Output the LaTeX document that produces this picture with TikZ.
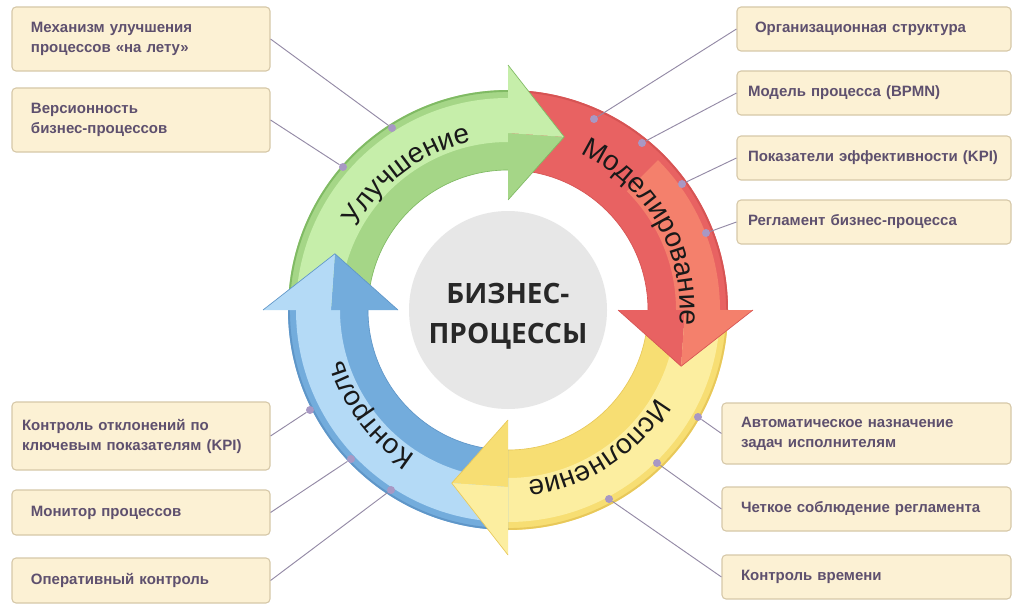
\documentclass[tikz,border=0pt]{standalone}
\usepackage{fontspec}
\setmainfont{Liberation Sans}
\newfontfamily\osans{Open Sans}
\usetikzlibrary{decorations.text}
\definecolor{boxfill}{RGB}{252,241,212}
\definecolor{boxline}{RGB}{214,200,168}
\definecolor{boxtext}{RGB}{94,80,110}
\definecolor{connc}{RGB}{148,138,166}
\definecolor{dotc}{RGB}{168,152,196}
\definecolor{hub}{RGB}{231,231,231}
\definecolor{hubtext}{RGB}{40,40,40}
\definecolor{arctext}{RGB}{25,25,25}
\definecolor{gmid}{RGB}{165,214,135}
\definecolor{glight}{RGB}{198,238,170}
\definecolor{gdark}{RGB}{128,186,100}
\definecolor{rmid}{RGB}{232,98,98}
\definecolor{rlight}{RGB}{244,128,108}
\definecolor{rdark}{RGB}{214,84,84}
\definecolor{ymid}{RGB}{247,222,115}
\definecolor{ylight}{RGB}{252,238,160}
\definecolor{ydark}{RGB}{232,200,90}
\definecolor{bmid}{RGB}{115,172,220}
\definecolor{blight}{RGB}{180,218,246}
\definecolor{bdark}{RGB}{95,150,200}
\newcommand{\arcfont}{\fontsize{21}{21}\selectfont\color{arctext}}
\tikzset{
 box/.style={draw=boxline, fill=boxfill, line width=0.8pt, rounded corners=3pt,
   font=\bfseries\fontsize{11.25}{15}\selectfont, text=boxtext, align=left, inner ysep=0pt},
 lbox/.style={box, minimum width=193.5pt, text width=165pt, inner xsep=14.25pt},
 rbox/.style={box, minimum width=205.5pt, text width=189pt, inner xsep=8.25pt},
 rrbox/.style={box, minimum width=216.75pt, text width=188.25pt, inner xsep=14.25pt},
 conn/.style={draw=connc, line width=0.7pt},
 dot/.style={circle, fill=dotc, inner sep=0pt, minimum size=6pt},
 rim/.style={line width=1.4pt},
 edge/.style={line width=0.5pt},
}
\begin{document}
\begin{tikzpicture}[x=0.75pt,y=0.75pt]
\useasboundingbox (0,0) rectangle (1024,612);
\fill[white] (0,0) rectangle (1024,612);

\begin{scope}[shift={(508,302)}]
% ---------- bodies ----------
% green
\fill[gmid] (180:220) arc[start angle=180,end angle=90,radius=220] -- (90:140) arc[start angle=90,end angle=180,radius=140] -- cycle;
\fill[glight] (180:212) arc[start angle=180,end angle=90,radius=212] -- (90:168) arc[start angle=90,end angle=180,radius=168] -- cycle;
\draw[gdark,rim] (180:219) arc[start angle=180,end angle=90,radius=219];
\draw[gdark,edge] (180:140) arc[start angle=180,end angle=90,radius=140];
% red
\fill[rmid] (90:220) arc[start angle=90,end angle=0,radius=220] -- (0:140) arc[start angle=0,end angle=90,radius=140] -- cycle;
\fill[rlight] (45:212) arc[start angle=45,end angle=0,radius=212] -- (0:168) arc[start angle=0,end angle=45,radius=168] -- cycle;
\draw[rdark,rim] (90:219) arc[start angle=90,end angle=0,radius=219];
\draw[rdark,edge] (90:140) arc[start angle=90,end angle=0,radius=140];
% yellow
\fill[ymid] (0:220) arc[start angle=0,end angle=-90,radius=220] -- (-90:140) arc[start angle=-90,end angle=0,radius=140] -- cycle;
\fill[ylight] (0:212) arc[start angle=0,end angle=-90,radius=212] -- (-90:168) arc[start angle=-90,end angle=0,radius=168] -- cycle;
\draw[ydark,rim] (0:219) arc[start angle=0,end angle=-90,radius=219];
\draw[ydark,edge] (0:140) arc[start angle=0,end angle=-90,radius=140];
% blue
\fill[bmid] (-90:220) arc[start angle=-90,end angle=-180,radius=220] -- (-180:140) arc[start angle=-180,end angle=-90,radius=140] -- cycle;
\fill[blight] (-90:212) arc[start angle=-90,end angle=-180,radius=212] -- (-180:168) arc[start angle=-180,end angle=-90,radius=168] -- cycle;
\draw[bdark,rim] (-90:219) arc[start angle=-90,end angle=-180,radius=219];
\draw[bdark,edge] (-90:140) arc[start angle=-90,end angle=-180,radius=140];

% ---------- heads ----------
% green
\fill[gmid] (90:177) -- (72:182) -- (90:110) -- cycle;
\fill[glight] (90:245) -- (72:182) -- (90:177) -- cycle;
\draw[gdark,edge] (90:245) -- (72:182) -- (90:110);
% red
\fill[rmid] (0:177) -- (-18:182) -- (0:110) -- cycle;
\fill[rlight] (0:245) -- (-18:182) -- (0:177) -- cycle;
\draw[rdark,edge] (0:245) -- (-18:182) -- (0:110);
% yellow
\fill[ymid] (-90:177) -- (-108:182) -- (-90:110) -- cycle;
\fill[ylight] (-90:245) -- (-108:182) -- (-90:177) -- cycle;
\draw[ydark,edge] (-90:245) -- (-108:182) -- (-90:110);
% blue
\fill[bmid] (-180:177) -- (-198:182) -- (-180:110) -- cycle;
\fill[blight] (-180:245) -- (-198:182) -- (-180:177) -- cycle;
\draw[bdark,edge] (-180:245) -- (-198:182) -- (-180:110);

% ---------- arc labels ----------
\path[decorate,decoration={text along path,text={|\arcfont|Улучшение},text align=center}]
  (187:172) arc[start angle=187,end angle=67,radius=172];
\path[decorate,decoration={text along path,text={|\arcfont|Моделирование},text align=center}]
  (90:172) arc[start angle=90,end angle=-30,radius=172];
\path[decorate,decoration={text along path,text={|\arcfont|Исполнение},text align=center}]
  (3:172) arc[start angle=3,end angle=-117,radius=172];
\path[decorate,decoration={text along path,text={|\arcfont|Контроль},text align=center}]
  (-83:172) arc[start angle=-83,end angle=-203,radius=172];
\end{scope}

% hub
\node[circle, fill=hub, minimum size=148.5pt, inner sep=0pt] (hub) at (508,302) {};
\node[align=center, inner sep=0pt, font=\osans\bfseries\fontsize{21}{30}\selectfont, text=hubtext]
  (hubtext) at (508,296) {БИЗНЕС-\\ПРОЦЕССЫ};

% ---------- boxes ----------
\node[lbox, minimum height=48pt] (b1) at (141,573) {Механизм улучшения\\процессов «на лету»};
\node[lbox, minimum height=48pt] (b2) at (141,492) {Версионность\\бизнес-процессов};
\node[box, minimum width=193.5pt, text width=178.5pt, inner xsep=7.5pt, minimum height=51pt] (b3) at (141,176) {Контроль отклонений по\\ключевым показателям (KPI)};
\node[lbox, minimum height=33.75pt] (b4) at (141,99.5) {Монитор процессов};
\node[lbox, minimum height=33.75pt] (b5) at (141,31.5) {Оперативный контроль};
\node[box, minimum width=205.5pt, text width=178.5pt, inner xsep=13.5pt, minimum height=33pt] (b6) at (874,583) {Организационная структура};
\node[rbox, minimum height=33pt] (b7) at (874,519) {Модель процесса (BPMN)};
\node[rbox, minimum height=33pt] (b8) at (874,454) {Показатели эффективности (KPI)};
\node[rbox, minimum height=33pt] (b9) at (874,390) {Регламент бизнес-процесса};
\node[rrbox, minimum height=45.75pt] (b10) at (866.5,178.5) {Автоматическое назначение\\задач исполнителям};
\node[rrbox, minimum height=33pt] (b11) at (866.5,103) {Четкое соблюдение регламента};
\node[rrbox, minimum height=33pt] (b12) at (866.5,35) {Контроль времени};

% ---------- dots ----------
\node[dot] (d1) at (392,484) {};
\node[dot] (d2) at (343,445) {};
\node[dot] (d3) at (310,202) {};
\node[dot] (d4) at (351,153) {};
\node[dot] (d5) at (391,122) {};
\node[dot] (d6) at (594,493) {};
\node[dot] (d7) at (642,469) {};
\node[dot] (d8) at (682,428) {};
\node[dot] (d9) at (706,379) {};
\node[dot] (d10) at (698,195) {};
\node[dot] (d11) at (657,149) {};
\node[dot] (d12) at (609,113) {};

% ---------- connectors ----------
\draw[conn] (b1.east) -- (d1);
\draw[conn] (b2.east) -- (d2);
\draw[conn] (b3.east) -- (d3);
\draw[conn] (b4.east) -- (d4);
\draw[conn] (b5.east) -- (d5);
\draw[conn] (b6.west) -- (d6);
\draw[conn] (b7.west) -- (d7);
\draw[conn] (b8.west) -- (d8);
\draw[conn] (b9.west) -- (d9);
\draw[conn] (b10.west) -- (d10);
\draw[conn] (b11.west) -- (d11);
\draw[conn] (b12.west) -- (d12);
\end{tikzpicture}
\end{document}
